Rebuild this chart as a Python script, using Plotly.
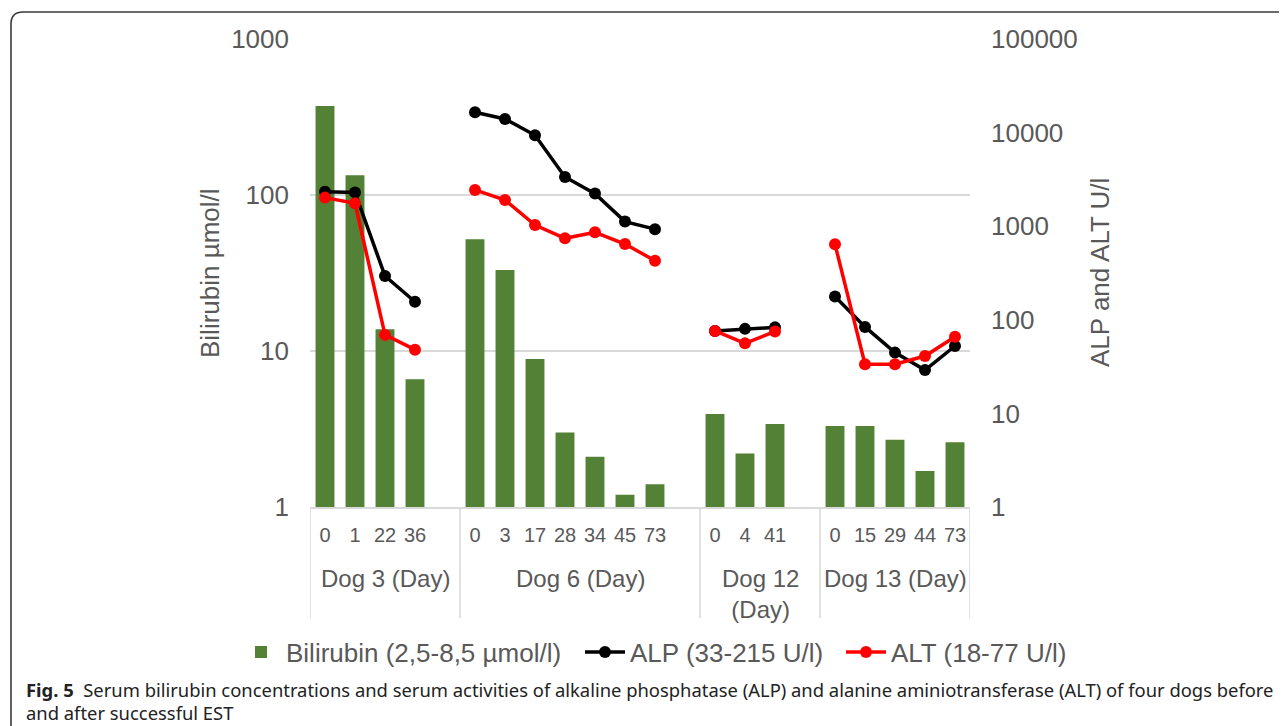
import plotly.graph_objects as go

# ---------------- data ----------------
dog_labels = ["Dog 3 (Day)", "Dog 6 (Day)", "Dog 12<br>(Day)", "Dog 13 (Day)"]
days_dog3 = ["0", "1", "22", "36"]
days_dog6 = ["0", "3", "17", "28", "34", "45", "73"]
days_dog12 = ["0", "4", "41"]
days_dog13 = ["0", "15", "29", "44", "73"]

bili_dog3 = [372, 134, 13.8, 6.6]
bili_dog6 = [52, 33, 8.9, 3.0, 2.1, 1.2, 1.4]
bili_dog12 = [3.95, 2.2, 3.4]
bili_dog13 = [3.3, 3.3, 2.7, 1.7, 2.6]

alp_dog3 = [2340, 2290, 294, 156]
alp_dog6 = [16500, 14000, 9350, 3360, 2230, 1120, 930]
alp_dog12 = [76, 80, 83]
alp_dog13 = [177, 84, 44.6, 29, 52.5]

alt_dog3 = [2020, 1760, 69, 48]
alt_dog6 = [2440, 1900, 1030, 742, 860, 645, 428]
alt_dog12 = [76, 56, 75]
alt_dog13 = [640, 33.5, 33.5, 41, 66]

left_ticks = [1, 10, 100, 1000]
right_ticks = [1, 10, 100, 1000, 10000, 100000]

# ---------------- build category slots (one empty slot after each dog except last) ----------------
groups = [
    (days_dog3, bili_dog3, alp_dog3, alt_dog3),
    (days_dog6, bili_dog6, alp_dog6, alt_dog6),
    (days_dog12, bili_dog12, alp_dog12, alt_dog12),
    (days_dog13, bili_dog13, alp_dog13, alt_dog13),
]
x_idx, tick_text, bili, alp, alt = [], [], [], [], []
group_bounds = []
pos = 0
for gi, (d, b, a, t) in enumerate(groups):
    start = pos
    for k in range(len(d)):
        x_idx.append(pos)
        tick_text.append(d[k])
        bili.append(b[k])
        alp.append(a[k])
        alt.append(t[k])
        pos += 1
    if gi < len(groups) - 1:
        x_idx.append(pos)
        tick_text.append("")
        bili.append(None)
        alp.append(None)
        alt.append(None)
        pos += 1
    group_bounds.append((start - 0.5, pos - 0.5))
n_slots = pos

GREEN = "#538135"
GRAY_TXT = "#595959"
GRID = "#d9d9d9"
FONT = "Liberation Sans, Arial, sans-serif"

fig = go.Figure()
fig.add_trace(go.Bar(
    x=x_idx, y=bili, name="Bilirubin (2,5-8,5 µmol/l)",
    marker=dict(color=GREEN, line=dict(width=0)), width=0.63, yaxis="y",
    legend="legend", showlegend=True,
))
fig.add_trace(go.Scatter(
    x=x_idx, y=alp, name="ALP (33-215 U/l)", mode="lines+markers", yaxis="y2",
    line=dict(color="#000000", width=3.5), marker=dict(size=12, color="#000000"),
    connectgaps=False, legend="legend2", showlegend=True,
))
fig.add_trace(go.Scatter(
    x=x_idx, y=alt, name="ALT (18-77 U/l)", mode="lines+markers", yaxis="y2",
    line=dict(color="#ff0000", width=3.5), marker=dict(size=12, color="#ff0000"),
    connectgaps=False, legend="legend3", showlegend=True,
))

# page body has an 8px margin -> figure is drawn from (8, 8) of the window
OFF = 8
W, H = 1287 - OFF, 726 - OFF
L, T = 310 - OFF, 39 - OFF
R = W - (970 - OFF)
B = H - (507 - OFF)
PW = W - L - R
PH = H - T - B


def px(xp):
    # reference window pixel -> paper fraction
    return (xp - OFF - L) / PW


def py(yp):
    return (H - B - (yp - OFF)) / PH


shapes = []
seps = [group_bounds[0][0]] + [gb[1] for gb in group_bounds]
for s in seps:
    shapes.append(dict(type="line", xref="x", yref="paper", x0=s, x1=s,
                       y0=0, y1=py(618), line=dict(color=GRID, width=1.5)))
shapes.append(dict(
    type="path", xref="paper", yref="paper",
    path=f"M {px(11)},{py(740)} L {px(11)},{py(24)} Q {px(11)},{py(12)} {px(23)},{py(12)} L {px(1300)},{py(12)}",
    line=dict(color="#3a3a3a", width=1.6),
))

annotations = []
for gi, lab in enumerate(dog_labels):
    a, b = group_bounds[gi]
    annotations.append(dict(
        x=(a + b) / 2, xref="x", y=py(563), yref="paper", text=lab,
        showarrow=False, xanchor="center", yanchor="top",
        font=dict(family=FONT, size=24, color=GRAY_TXT),
    ))
annotations.append(dict(
    x=px(210), xref="paper", y=0.5, yref="paper", text="Bilirubin µmol/l",
    textangle=-90, showarrow=False, xanchor="center", yanchor="middle",
    font=dict(family=FONT, size=26, color=GRAY_TXT),
))
annotations.append(dict(
    x=px(1100), xref="paper", y=0.5, yref="paper", text="ALP and ALT U/l",
    textangle=-90, showarrow=False, xanchor="center", yanchor="middle",
    font=dict(family=FONT, size=26, color=GRAY_TXT),
))
CAP_FONT = "Noto Sans, Open Sans, sans-serif"
annotations.append(dict(
    x=px(24), xref="paper", y=py(689), yref="paper",
    text="<b>Fig. 5</b>  Serum bilirubin concentrations and serum activities of alkaline phosphatase (ALP) and alanine aminiotransferase (ALT) of four dogs before",
    showarrow=False, xanchor="left", yanchor="middle",
    font=dict(family=CAP_FONT, size=18.4, color="#222222"),
))
annotations.append(dict(
    x=px(24), xref="paper", y=py(712), yref="paper",
    text="and after successful EST",
    showarrow=False, xanchor="left", yanchor="middle",
    font=dict(family=CAP_FONT, size=18.4, color="#222222"),
))

LEG_FONT = dict(family=FONT, size=26, color=GRAY_TXT)


def leg(xpix):
    return dict(orientation="h", x=px(xpix), xanchor="left", y=py(652), yanchor="middle",
                font=LEG_FONT, bgcolor="rgba(0,0,0,0)", itemwidth=40, visible=True)


fig.update_layout(
    width=W, height=H,
    margin=dict(l=L, r=R, t=T, b=B),
    paper_bgcolor="white", plot_bgcolor="white",
    font=dict(family=FONT, color=GRAY_TXT),
    showlegend=True,
    xaxis=dict(
        range=[-0.5, n_slots - 0.5], tickmode="array",
        tickvals=x_idx, ticktext=tick_text,
        tickfont=dict(family=FONT, size=20, color=GRAY_TXT),
        showgrid=False, zeroline=False, showline=True, linecolor=GRID, linewidth=1.5,
        ticks="", ticklabelstandoff=9,
    ),
    yaxis=dict(
        type="log", range=[0, 3], tickmode="array", tickvals=left_ticks,
        ticktext=[str(v) for v in left_ticks],
        tickfont=dict(family=FONT, size=26, color=GRAY_TXT),
        showgrid=True, gridcolor=GRID, gridwidth=1.5, zeroline=False, showline=False,
        ticks="", ticklabelstandoff=20,
    ),
    yaxis2=dict(
        type="log", range=[0, 5], overlaying="y", side="right", tickmode="array",
        tickvals=right_ticks, ticktext=[str(v) for v in right_ticks],
        tickfont=dict(family=FONT, size=26, color=GRAY_TXT),
        showgrid=False, zeroline=False, showline=False, ticks="", ticklabelstandoff=20,
    ),
    legend=leg(236),
    legend2=leg(580),
    legend3=leg(841),
    shapes=shapes,
    annotations=annotations,
)

fig.write_html("out.html")
